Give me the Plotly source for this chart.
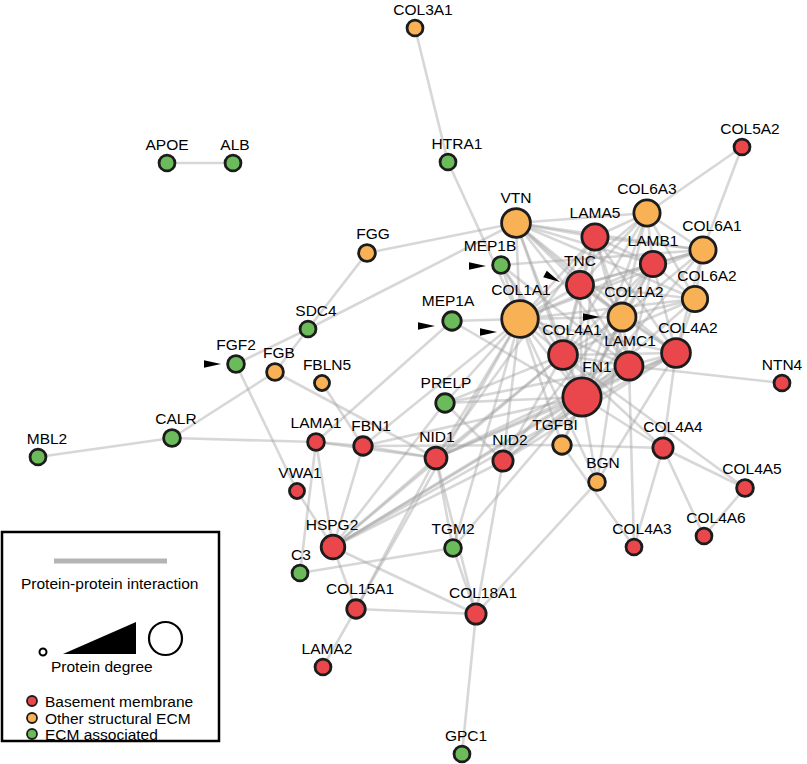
import math
import plotly.graph_objects as go

# ---------------- data ----------------
nodes = ["COL3A1", "HTRA1", "COL5A2", "APOE", "ALB", "VTN", "COL6A3", "LAMA5", "COL6A1", "LAMB1",
         "MEP1B", "FGG", "TNC", "COL6A2", "COL1A1", "COL1A2", "MEP1A", "SDC4", "FGF2", "FGB",
         "FBLN5", "COL4A1", "LAMC1", "COL4A2", "FN1", "NTN4", "PRELP", "CALR", "MBL2", "LAMA1",
         "FBN1", "NID1", "NID2", "TGFBI", "COL4A4", "BGN", "COL4A5", "VWA1", "COL4A6", "COL4A3",
         "HSPG2", "TGM2", "C3", "COL15A1", "COL18A1", "LAMA2", "GPC1"]
node_x = [415, 448, 742, 167, 233, 516, 647, 595, 703, 653,
          501, 367, 580, 695, 520, 622, 452, 308, 236, 275,
          322, 563, 629, 676, 582, 782, 445, 172, 38, 316,
          363, 436, 503, 562, 663, 597, 745, 297, 704, 634,
          333, 453, 300, 356, 476, 323, 462]
node_y = [28, 162, 147, 163, 163, 223, 213, 237, 250, 264,
          265, 253, 285, 299, 319, 317, 321, 329, 364, 372,
          383, 355, 366, 353, 397, 383, 403, 438, 457, 442,
          446, 458, 461, 445, 448, 482, 488, 491, 536, 547,
          547, 548, 573, 609, 614, 667, 754]
node_class = ["OS", "EA", "BM", "EA", "EA", "OS", "OS", "BM", "OS", "BM",
              "EA", "OS", "BM", "OS", "OS", "OS", "EA", "EA", "EA", "OS",
              "OS", "BM", "BM", "BM", "BM", "BM", "EA", "EA", "EA", "BM",
              "BM", "BM", "BM", "OS", "BM", "OS", "BM", "BM", "BM", "BM",
              "BM", "EA", "EA", "BM", "BM", "BM", "EA"]
degree = [2, 2, 2, 2, 2, 17, 14, 14, 14, 13,
          3, 3, 15, 13, 26, 16, 5, 2, 3, 3,
          1, 17, 16, 17, 28, 2, 5, 3, 2, 3,
          5, 9, 7, 5, 7, 3, 3, 1, 2, 2,
          11, 3, 2, 5, 7, 2, 2]
label_dx = [8, 9, 8, 0, 2, 0, 0, 0, 9, 0,
            -11, 6, 0, 12, 1, 12, -4, 8, 0, 4,
            5, 9, 1, 12, 15, 0, 1, 4, 9, 0,
            8, 1, 7, -7, 10, 6, 7, 3, 12, 8,
            -1, 0, 1, 4, 7, 4, 4]

edges = [
    # core ECM cluster
    ("VTN", "LAMA5"), ("VTN", "COL6A3"), ("VTN", "COL1A1"), ("VTN", "TNC"), ("VTN", "COL1A2"),
    ("VTN", "COL4A1"), ("VTN", "FN1"), ("VTN", "LAMB1"), ("VTN", "COL6A1"), ("VTN", "LAMC1"),
    ("VTN", "COL4A2"), ("VTN", "COL6A2"),
    ("LAMA5", "COL6A3"), ("LAMA5", "LAMB1"), ("LAMA5", "TNC"), ("LAMA5", "COL1A1"), ("LAMA5", "COL1A2"),
    ("LAMA5", "COL4A1"), ("LAMA5", "LAMC1"), ("LAMA5", "COL4A2"), ("LAMA5", "FN1"), ("LAMA5", "COL6A1"),
    ("COL6A3", "COL6A1"), ("COL6A3", "COL6A2"), ("COL6A3", "LAMB1"), ("COL6A3", "COL1A1"),
    ("COL6A3", "COL1A2"), ("COL6A3", "FN1"), ("COL6A3", "COL4A1"), ("COL6A3", "TNC"),
    ("COL6A1", "COL6A2"), ("COL6A1", "LAMB1"), ("COL6A1", "COL1A1"), ("COL6A1", "COL1A2"),
    ("COL6A1", "FN1"), ("COL6A1", "COL4A2"), ("COL6A1", "TNC"),
    ("LAMB1", "TNC"), ("LAMB1", "COL1A1"), ("LAMB1", "COL1A2"), ("LAMB1", "COL4A1"), ("LAMB1", "LAMC1"),
    ("LAMB1", "COL4A2"), ("LAMB1", "FN1"), ("LAMB1", "COL6A2"),
    ("TNC", "COL1A1"), ("TNC", "COL1A2"), ("TNC", "COL4A1"), ("TNC", "FN1"), ("TNC", "LAMC1"),
    ("TNC", "COL4A2"), ("TNC", "COL6A2"),
    ("COL6A2", "COL1A1"), ("COL6A2", "COL1A2"), ("COL6A2", "FN1"), ("COL6A2", "COL4A2"), ("COL6A2", "COL4A1"),
    ("COL1A1", "COL1A2"), ("COL1A1", "COL4A1"), ("COL1A1", "FN1"), ("COL1A1", "LAMC1"), ("COL1A1", "COL4A2"),
    ("COL1A2", "COL4A1"), ("COL1A2", "FN1"), ("COL1A2", "LAMC1"), ("COL1A2", "COL4A2"),
    ("COL4A1", "FN1"), ("COL4A1", "LAMC1"), ("COL4A1", "COL4A2"),
    ("LAMC1", "FN1"), ("LAMC1", "COL4A2"), ("COL4A2", "FN1"),
    # periphery
    ("APOE", "ALB"), ("COL3A1", "HTRA1"), ("HTRA1", "COL1A1"), ("COL5A2", "COL6A3"), ("COL5A2", "COL6A1"),
    ("FGG", "VTN"), ("FGG", "SDC4"), ("SDC4", "VTN"), ("SDC4", "FGF2"), ("SDC4", "FGB"),
    ("FGF2", "VWA1"), ("FGB", "CALR"), ("FGB", "NID1"), ("FBLN5", "FBN1"), ("CALR", "MBL2"), ("CALR", "LAMA1"),
    ("MEP1B", "COL1A1"), ("MEP1B", "FN1"), ("MEP1B", "COL6A1"), ("MEP1B", "LAMC1"), ("MEP1B", "COL4A1"),
    ("MEP1A", "COL1A1"), ("MEP1A", "LAMA1"), ("MEP1A", "FN1"),
    ("PRELP", "COL1A1"), ("PRELP", "NID2"), ("PRELP", "FN1"), ("PRELP", "HSPG2"), ("PRELP", "COL4A1"),
    ("PRELP", "LAMC1"),
    ("LAMA1", "FBN1"), ("LAMA1", "NID1"), ("LAMA1", "HSPG2"), ("LAMA1", "C3"),
    ("FBN1", "NID1"), ("FBN1", "TGFBI"), ("FBN1", "HSPG2"), ("FBN1", "COL1A1"), ("FBN1", "FN1"),
    ("VWA1", "HSPG2"),
    ("NID1", "COL1A1"), ("NID1", "FN1"), ("NID1", "COL4A1"), ("NID1", "COL4A2"), ("NID1", "LAMC1"),
    ("NID1", "TGM2"), ("NID1", "HSPG2"), ("NID1", "COL15A1"), ("NID1", "LAMA5"), ("NID1", "COL18A1"),
    ("NID2", "HSPG2"), ("NID2", "COL18A1"), ("NID2", "COL4A1"), ("NID2", "LAMC1"), ("NID2", "COL4A2"),
    ("NID2", "FN1"), ("NID2", "COL1A1"), ("NID2", "LAMB1"),
    ("HSPG2", "FN1"), ("HSPG2", "COL4A1"), ("HSPG2", "LAMC1"), ("HSPG2", "COL18A1"), ("HSPG2", "COL15A1"),
    ("HSPG2", "COL4A2"),
    ("TGFBI", "FN1"), ("TGFBI", "COL1A1"), ("TGFBI", "COL4A4"), ("TGFBI", "COL1A2"), ("TGFBI", "COL4A3"),
    ("BGN", "COL1A2"), ("BGN", "COL4A2"), ("BGN", "COL18A1"), ("BGN", "FN1"), ("BGN", "COL1A1"),
    ("COL4A4", "COL4A3"), ("COL4A4", "COL4A5"), ("COL4A4", "COL4A6"), ("COL4A4", "COL4A2"),
    ("COL4A4", "FN1"), ("COL4A4", "COL4A1"), ("COL4A5", "COL4A6"), ("COL4A5", "COL4A1"), ("COL4A3", "LAMC1"),
    ("NTN4", "LAMC1"),
    ("TGM2", "C3"), ("TGM2", "COL18A1"), ("TGM2", "FN1"), ("TGM2", "COL1A1"),
    ("COL18A1", "GPC1"), ("COL18A1", "COL15A1"),
    ("COL15A1", "LAMA2"), ("COL15A1", "COL1A1"),
]

# proteins marked by an arrowhead: (protein, tip offset x, tip offset y, pointing angle in degrees)
arrow_marks = [("FGF2", -15, 0, 0), ("MEP1B", -15, 1, 0), ("MEP1A", -17, 5, 0),
               ("COL1A1", -23, 13, 0), ("TNC", -20, -3, 28), ("COL1A2", -22, 0, 0)]

class_names = {"BM": "Basement membrane", "OS": "Other structural ECM", "EA": "ECM associated"}
class_colors = {"BM": "#E9474B", "OS": "#F8B154", "EA": "#6BBB5B"}

FONT = "Liberation Sans, Arial, sans-serif"
FS = 15.5
OUTLINE = "#1c1c1c"
LW = 2.8

def radius(d):
    return 8.5 + 0.43 * d

idx = {n: i for i, n in enumerate(nodes)}

fig = go.Figure()

# edges
for a, b in edges:
    i, j = idx[a], idx[b]
    fig.add_trace(go.Scatter(x=[node_x[i], node_x[j]], y=[node_y[i], node_y[j]], mode="lines",
                             line=dict(color="rgba(160,160,160,0.42)", width=2.6),
                             hoverinfo="skip", showlegend=False))

# nodes
for c in ["BM", "OS", "EA"]:
    sel = [i for i in range(len(nodes)) if node_class[i] == c]
    fig.add_trace(go.Scatter(
        x=[node_x[i] for i in sel], y=[node_y[i] for i in sel], mode="markers",
        marker=dict(size=[2 * radius(degree[i]) - LW for i in sel], color=class_colors[c], opacity=1,
                    line=dict(color=OUTLINE, width=LW)),
        text=[nodes[i] for i in sel], hoverinfo="text", name=class_names[c], showlegend=False))

# labels
fig.add_trace(go.Scatter(
    x=[node_x[i] + label_dx[i] for i in range(len(nodes))],
    y=[node_y[i] - radius(degree[i]) - 8 for i in range(len(nodes))],
    mode="text", text=nodes, textposition="middle center",
    textfont=dict(family=FONT, size=FS, color="#000000"), hoverinfo="skip", showlegend=False))

shapes = []
# arrowheads
for n, dx, dy, ang in arrow_marks:
    i = idx[n]
    tx, ty = node_x[i] + dx, node_y[i] + dy
    a = math.radians(ang)
    L, w = 17, 3.8
    bx, by = tx - L * math.cos(a), ty - L * math.sin(a)
    p1 = (bx + w * math.sin(a), by - w * math.cos(a))
    p2 = (bx - w * math.sin(a), by + w * math.cos(a))
    shapes.append(dict(type="path", xref="x", yref="y",
                       path=f"M {tx},{ty} L {p1[0]},{p1[1]} L {p2[0]},{p2[1]} Z",
                       fillcolor="black", line=dict(width=0)))

# legend box
shapes.append(dict(type="rect", xref="x", yref="y", x0=2, x1=219, y0=532, y1=741,
                   line=dict(color="black", width=2.5), fillcolor="rgba(0,0,0,0)"))
shapes.append(dict(type="line", xref="x", yref="y", x0=54, x1=167, y0=561, y1=561,
                   line=dict(color="#b4b4b4", width=5)))
shapes.append(dict(type="circle", xref="x", yref="y", x0=39.5, x1=46.5, y0=648.5, y1=655.5,
                   line=dict(color="black", width=2)))
shapes.append(dict(type="path", xref="x", yref="y", path="M 63,654 L 136,654 L 136,622 Z",
                   fillcolor="black", line=dict(width=0)))
shapes.append(dict(type="circle", xref="x", yref="y", x0=149, x1=182, y0=622, y1=655,
                   line=dict(color="black", width=2.2)))

annotations = [
    dict(x=110, y=583, text="Protein-protein interaction", showarrow=False, xref="x", yref="y",
         font=dict(family=FONT, size=FS, color="#000")),
    dict(x=102, y=666, text="Protein degree", showarrow=False, xref="x", yref="y",
         font=dict(family=FONT, size=FS, color="#000")),
]
leg_y = [701, 718, 734]
for k, c in enumerate(["BM", "OS", "EA"]):
    shapes.append(dict(type="circle", xref="x", yref="y", x0=27, x1=37, y0=leg_y[k] - 5, y1=leg_y[k] + 5,
                       fillcolor=class_colors[c], line=dict(color=OUTLINE, width=1.8)))
    annotations.append(dict(x=43, y=leg_y[k], text=class_names[c], showarrow=False, xref="x", yref="y",
                            xanchor="left", font=dict(family=FONT, size=FS, color="#000")))

fig.update_layout(
    width=807, height=764, margin=dict(l=0, r=0, t=0, b=0),
    paper_bgcolor="white", plot_bgcolor="white", showlegend=False,
    xaxis=dict(range=[0, 807], visible=False, fixedrange=True),
    yaxis=dict(range=[764, 0], visible=False, fixedrange=True),
    shapes=shapes, annotations=annotations,
)

fig.write_html("out.html", config={"displayModeBar": False},
               post_script="document.body.style.margin='0px';")
